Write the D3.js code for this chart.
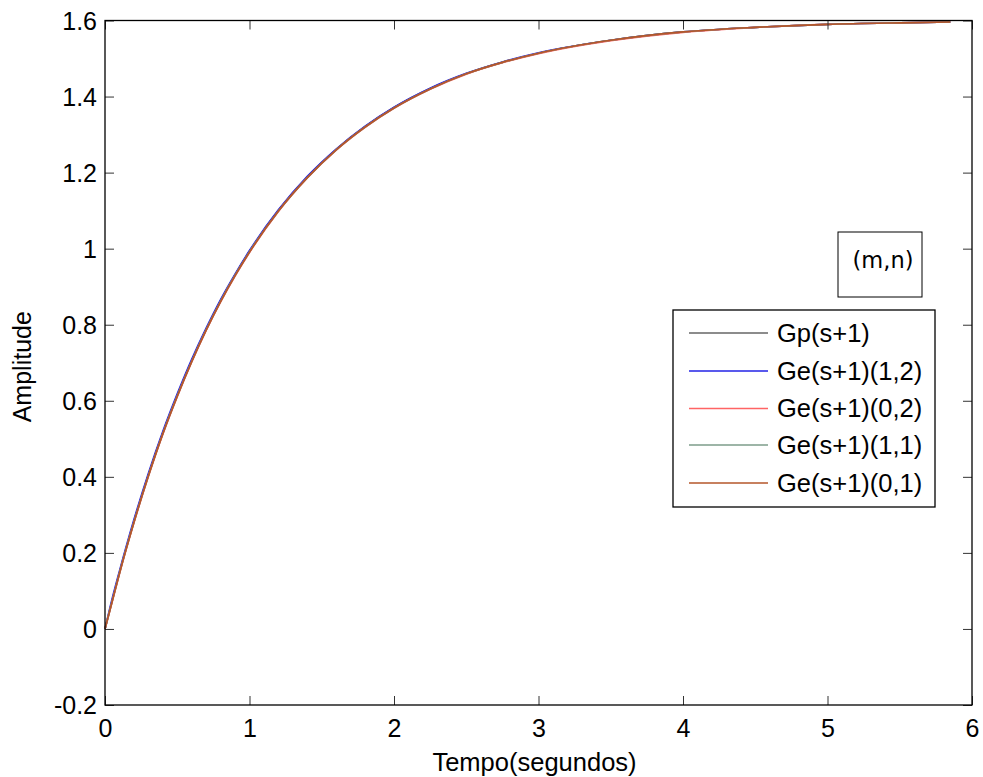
<!DOCTYPE html>
<html><head><meta charset="utf-8">
<script src="https://cdn.jsdelivr.net/npm/d3@7/dist/d3.min.js"></script>
<style>body{margin:0;background:#fff;} svg{display:block;font-family:"Liberation Sans",Arial,sans-serif;}</style>
</head><body>
<svg id="chart" width="983" height="777"></svg>
<script>
// ---- data ----
const time = [0,0.05,0.1,0.2,0.3,0.4,0.5,0.6,0.7,0.8,0.9,1.0,1.2,1.4,1.6,1.8,2.0,2.25,2.5,2.75,3.0,3.5,4.0,4.5,5.0,5.5,5.85];
const gp   = [0,0.075,0.148,0.282,0.404,0.515,0.614,0.705,0.788,0.863,0.931,0.993,1.100,1.188,1.261,1.321,1.371,1.421,1.460,1.490,1.514,1.548,1.570,1.582,1.590,1.594,1.596];
const ge12 = [0,0.080,0.152,0.287,0.409,0.519,0.618,0.709,0.791,0.866,0.933,0.995,1.102,1.190,1.262,1.322,1.372,1.422,1.461,1.491,1.515,1.548,1.570,1.582,1.590,1.594,1.596];
const ge02 = [0,0.072,0.145,0.279,0.401,0.512,0.611,0.702,0.785,0.860,0.928,0.990,1.098,1.186,1.259,1.319,1.369,1.419,1.459,1.489,1.513,1.547,1.569,1.582,1.590,1.594,1.596];
const ge11 = [0,0.074,0.147,0.281,0.403,0.514,0.613,0.704,0.787,0.862,0.930,0.992,1.099,1.187,1.260,1.320,1.370,1.420,1.460,1.490,1.514,1.548,1.570,1.582,1.590,1.594,1.596];
const ge01 = [0,0.073,0.146,0.280,0.402,0.513,0.612,0.703,0.786,0.861,0.929,0.991,1.099,1.187,1.260,1.320,1.370,1.420,1.460,1.490,1.514,1.548,1.570,1.582,1.590,1.594,1.596];
const seriesNames = ["Gp(s+1)","Ge(s+1)(1,2)","Ge(s+1)(0,2)","Ge(s+1)(1,1)","Ge(s+1)(0,1)"];
const seriesColors = ["#666666","#2222e6","#ff6464","#7c9c8a","#b5562a"];
const seriesValues = [gp, ge12, ge02, ge11, ge01];
const xTicks = [0,1,2,3,4,5,6];
const yTicks = [-0.2,0,0.2,0.4,0.6,0.8,1,1.2,1.4,1.6];
const yTickLabels = ["-0.2","0","0.2","0.4","0.6","0.8","1","1.2","1.4","1.6"];
const xLabel = "Tempo(segundos)";
const yLabel = "Amplitude";
const annotation = "(m,n)";

// ---- layout ----
const L = 105, R = 972, T = 20.5, B = 705;
const svg = d3.select("#chart");
const x = d3.scaleLinear().domain([0,6]).range([L,R]);
const y = d3.scaleLinear().domain([-0.2,1.6]).range([B,T]);
const FS = 25;

svg.append("rect").attr("x",L).attr("y",T).attr("width",R-L).attr("height",B-T)
  .attr("fill","#fff").attr("stroke","none");

// lines
const line = d3.line().x((d,i)=>x(time[i])).y(d=>y(d)).curve(d3.curveMonotoneX);
seriesValues.forEach((vals,k)=>{
  svg.append("path").datum(vals).attr("d",line).attr("fill","none")
    .attr("stroke",seriesColors[k]).attr("stroke-width",1.7);
});

// axes (ticks inward, both sides)
const tickLen = 9;
const gB = svg.append("g").attr("transform",`translate(0,${B})`)
  .call(d3.axisBottom(x).tickValues(xTicks).tickSize(-tickLen).tickPadding(14).tickFormat(d3.format("d")));
const gT = svg.append("g").attr("transform",`translate(0,${T})`)
  .call(d3.axisTop(x).tickValues(xTicks).tickSize(-tickLen).tickFormat(""));
const gL = svg.append("g").attr("transform",`translate(${L},0)`)
  .call(d3.axisLeft(y).tickValues(yTicks).tickSize(-tickLen).tickPadding(8).tickFormat((d,i)=>yTickLabels[i]));
const gR = svg.append("g").attr("transform",`translate(${R},0)`)
  .call(d3.axisRight(y).tickValues(yTicks).tickSize(-tickLen).tickFormat(""));
[gB,gT,gL,gR].forEach(g=>{
  g.select(".domain").remove();
  g.selectAll(".tick line").attr("stroke","#333").attr("stroke-width",1);
  g.selectAll(".tick text").attr("font-size",FS).attr("fill","#000")
   .attr("font-family","Liberation Sans, Arial, sans-serif");
});
gL.selectAll(".tick text").attr("dy","0.35em");

svg.append("rect").attr("x",L).attr("y",T).attr("width",R-L).attr("height",B-T)
  .attr("fill","none").attr("stroke","#000").attr("stroke-width",1.3);

// axis labels
svg.append("text").attr("x",(L+R)/2 - 4).attr("y",771).attr("text-anchor","middle")
  .attr("font-size",FS+0.5).text(xLabel);
svg.append("text").attr("transform",`translate(31,${(T+B)/2 + 4}) rotate(-90)`)
  .attr("text-anchor","middle").attr("font-size",FS).text(yLabel);

// (m,n) annotation box
svg.append("rect").attr("x",838).attr("y",232).attr("width",84).attr("height",65)
  .attr("fill","#fff").attr("stroke","#000").attr("stroke-width",1);
svg.append("text").attr("x",883).attr("y",268).attr("text-anchor","middle")
  .attr("font-size",22.5).attr("font-family","DejaVu Sans, sans-serif").text(annotation);

// legend
const lg = svg.append("g");
lg.append("rect").attr("x",673).attr("y",310).attr("width",262).attr("height",197)
  .attr("fill","#fff").attr("stroke","#000").attr("stroke-width",1.3);
const rowY = [333,371,408.5,445,483];
seriesNames.forEach((n,k)=>{
  lg.append("line").attr("x1",689).attr("x2",768).attr("y1",rowY[k]).attr("y2",rowY[k])
    .attr("stroke",seriesColors[k]).attr("stroke-width",1.5);
  lg.append("text").attr("x",777).attr("y",rowY[k]).attr("dy","0.35em")
    .attr("font-size",25.5).text(n);
});
</script>
</body></html>
